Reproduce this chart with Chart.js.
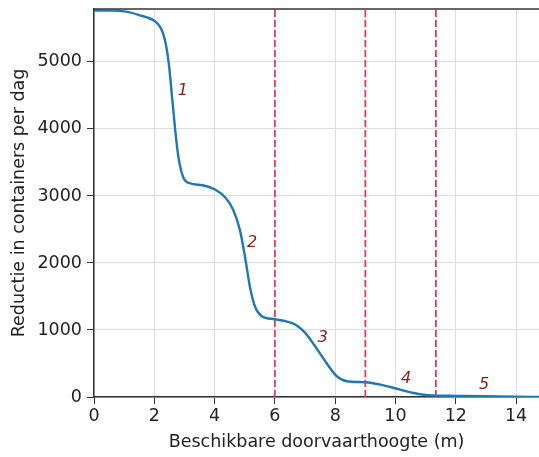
<!DOCTYPE html>
<html>
<head>
<meta charset="utf-8">
<script src="https://cdn.jsdelivr.net/npm/chart.js@4"></script>
<style>
  html, body { margin: 0; padding: 0; background: #fff; overflow: hidden; }
  #wrap { width: 539px; height: 457px; }
</style>
</head>
<body>
<div id="wrap"><canvas id="chart" width="539" height="457"></canvas></div>
<script>
// data
const heights = [0, 0.5, 1.0, 1.5, 2.0, 2.1, 2.24, 2.35, 2.43, 2.5, 2.58, 2.69, 2.8, 2.96, 3.18, 3.6, 4.0, 4.35, 4.62, 4.84, 5.01, 5.17, 5.34, 5.56, 6.0, 6.4, 6.7, 7.0, 7.3, 7.6, 8.05, 8.38, 9.0, 9.5, 10.15, 10.6, 11.0, 11.4, 12.0, 13.0, 14.0, 14.76];
const reduction = [5768, 5766, 5755, 5700, 5615, 5575, 5485, 5330, 5140, 4900, 4520, 4000, 3580, 3280, 3190, 3160, 3100, 2980, 2790, 2490, 2090, 1650, 1350, 1210, 1160, 1125, 1075, 960, 780, 580, 310, 235, 220, 185, 110, 60, 30, 20, 17, 12, 4, 2];

const cutoffs = [6, 9, 11.34];
const segmentNames = ['1', '2', '3', '4', '5'];
const segmentX = [2.95, 5.24, 7.59, 10.35, 12.94];
const segmentY = [4570, 2300, 880, 270, 186];

const xTicks = [0, 2, 4, 6, 8, 10, 12, 14];
const yTicks = [0, 1000, 2000, 3000, 4000, 5000];

const xMax = 14.76;
const yMax = 5790;

const font = "'DejaVu Sans', sans-serif";
const size = 17.5;
Chart.defaults.font.family = font;
Chart.defaults.color = '#222';

const curve = heights.map((h, i) => ({ x: h, y: reduction[i] }));

const cutoffSets = cutoffs.map(c => ({
  data: [{ x: c, y: 0 }, { x: c, y: yMax }],
  borderColor: '#e23c58',
  borderWidth: 1.8,
  borderDash: [7, 3],
  pointRadius: 0,
  order: 2
}));

const frame = {
  id: 'frame',
  afterDatasetsDraw(chart) {
    const { ctx, chartArea, scales } = chart;
    ctx.save();
    // top spine
    ctx.strokeStyle = '#333';
    ctx.lineWidth = 1.5;
    ctx.beginPath();
    ctx.moveTo(chartArea.left, chartArea.top);
    ctx.lineTo(chartArea.right, chartArea.top);
    ctx.stroke();
    // segment numbers
    ctx.fillStyle = '#8b1a1a';
    ctx.font = 'italic 16px ' + font;
    ctx.textAlign = 'center';
    ctx.textBaseline = 'middle';
    segmentNames.forEach((s, i) => {
      ctx.fillText(s, scales.x.getPixelForValue(segmentX[i]), scales.y.getPixelForValue(segmentY[i]));
    });
    ctx.restore();
  }
};

new Chart(document.getElementById('chart'), {
  type: 'line',
  data: {
    datasets: [{
      data: curve,
      borderColor: '#1f77b4',
      borderWidth: 2.4,
      pointRadius: 0,
      cubicInterpolationMode: 'monotone',
      order: 1
    }, ...cutoffSets]
  },
  options: {
    responsive: false,
    animation: false,
    layout: { padding: { top: 9, right: 0, left: 0, bottom: 0 } },
    plugins: { legend: { display: false }, tooltip: { enabled: false } },
    scales: {
      x: {
        type: 'linear',
        min: 0,
        max: xMax,
        afterBuildTicks: s => { s.ticks = xTicks.map(v => ({ value: v })); },
        afterFit: s => { s.height = 60; s.paddingLeft = 0; s.paddingRight = 0; },
        grid: { color: '#dddddd', lineWidth: 1, tickLength: 7, tickColor: '#333' },
        border: { color: '#333', width: 1.5 },
        ticks: { font: { size: size }, padding: 2, maxRotation: 0, color: '#222' },
        title: { display: true, text: 'Beschikbare doorvaarthoogte (m)', font: { size: size }, padding: { top: 0 }, color: '#222' }
      },
      y: {
        type: 'linear',
        min: 0,
        max: yMax,
        afterBuildTicks: s => { s.ticks = yTicks.map(v => ({ value: v })); },
        afterFit: s => { s.width = 94; s.paddingTop = 0; s.paddingBottom = 0; },
        grid: { color: '#dddddd', lineWidth: 1, tickLength: 7, tickColor: '#333' },
        border: { color: '#333', width: 1.5 },
        ticks: { font: { size: size }, padding: 5, color: '#222', callback: v => String(v) },
        title: { display: true, text: 'Reductie in containers per dag', font: { size: size }, padding: { top: 9, bottom: 0 }, color: '#222' }
      }
    }
  },
  plugins: [frame]
});
</script>
</body>
</html>
